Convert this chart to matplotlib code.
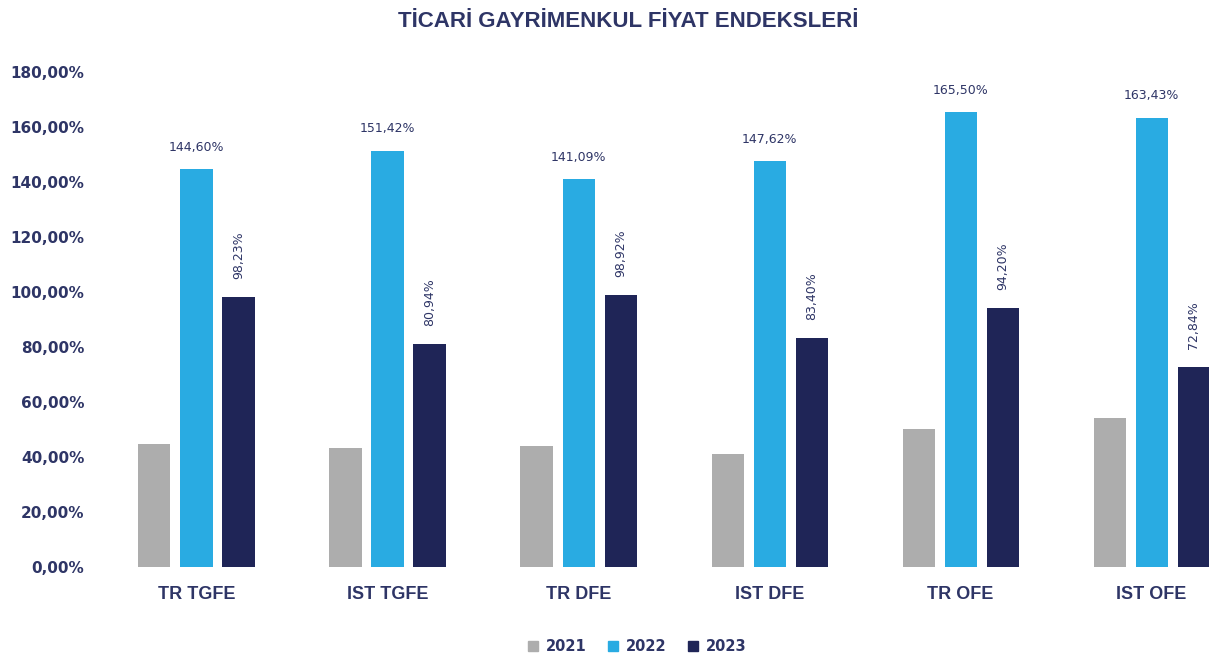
import matplotlib
matplotlib.use("Agg")
import matplotlib.pyplot as plt
import numpy as np
from matplotlib.patches import Patch

categories = ["TR TGFE", "IST TGFE", "TR DFE", "IST DFE", "TR OFE", "IST OFE"]
years = ["2021", "2022", "2023"]
v2021 = [44.8, 43.2, 44.0, 41.1, 50.2, 54.1]
v2022 = [144.60, 151.42, 141.09, 147.62, 165.50, 163.43]
v2023 = [98.23, 80.94, 98.92, 83.40, 94.20, 72.84]
yticks = [0, 20, 40, 60, 80, 100, 120, 140, 160, 180]

colors = ["#ADADAD", "#29ABE2", "#1F2557"]
text_color = "#2E3566"

plt.rcParams["font.family"] = ["DejaVu Sans"]


def fmt(v: float) -> str:
    return f"{v:.2f}".replace(".", ",") + "%"


fig = plt.figure(figsize=(12.09, 6.6), dpi=100)
ax = fig.add_axes([0.0835, 0.1409, 0.9165, 0.750])

x = np.arange(len(categories))
width = 0.168
step = 0.22
series = [v2021, v2022, v2023]
for i, vals in enumerate(series):
    ax.bar(x + (i - 1) * step, vals, width, color=colors[i], label=years[i])

# labels for 2022 (horizontal) and 2023 (rotated)
for xi, v in zip(x, v2022):
    ax.annotate(fmt(v), (xi, v), xytext=(0, 11), textcoords="offset points",
                ha="center", va="bottom", fontsize=9, color=text_color)
for xi, v in zip(x + step, v2023):
    ax.annotate(fmt(v), (xi, v), xytext=(0, 13), textcoords="offset points",
                ha="center", va="bottom", rotation=90, fontsize=9, color=text_color)

ax.set_xlim(-0.5, 5.3)
ax.set_ylim(0, 180)
ax.set_yticks(yticks)
ax.set_yticklabels([fmt(t) for t in yticks], fontsize=11, fontweight="bold", color=text_color)
ax.set_xticks(x)
ax.set_xticklabels(categories, fontsize=13, fontweight="bold", color=text_color,
                   family=["Liberation Sans", "DejaVu Sans"])
ax.tick_params(axis="both", length=0)
ax.tick_params(axis="x", pad=14)
ax.tick_params(axis="y", pad=12)
for s in ax.spines.values():
    s.set_visible(False)

fig.text(0.52, 0.968, "TİCARİ GAYRİMENKUL FİYAT ENDEKSLERİ", ha="center", va="center",
         fontsize=16, fontweight="bold", color=text_color,
         family=["Liberation Sans", "DejaVu Sans"])

handles = [Patch(color=c, label=y) for c, y in zip(colors, years)]
fig.legend(handles=handles, loc="center", bbox_to_anchor=(0.527, 0.02), ncol=3, frameon=False,
           prop={"size": 10.5, "weight": "bold"}, labelcolor=text_color,
           handlelength=0.7, handleheight=0.7, handletextpad=0.5, columnspacing=1.5)

fig.savefig("out.png", dpi=100)
